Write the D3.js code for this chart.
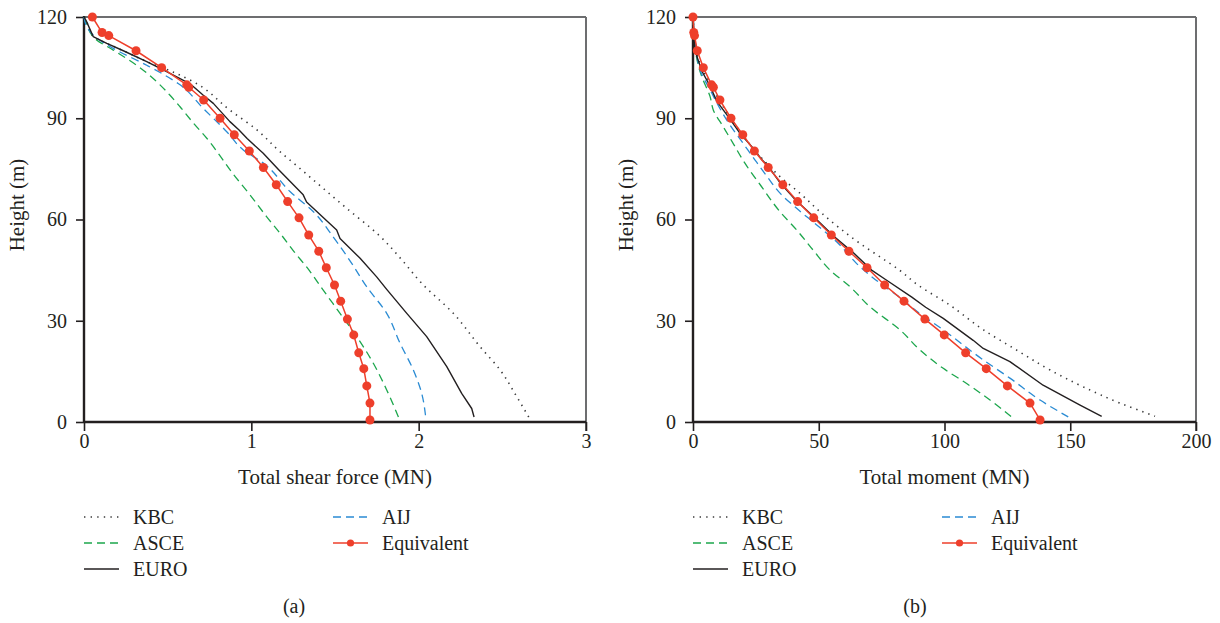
<!DOCTYPE html>
<html>
<head>
<meta charset="utf-8">
<script src="https://cdn.jsdelivr.net/npm/d3@7/dist/d3.min.js"></script>
<style>
  html, body { margin: 0; padding: 0; background: #fff; }
  svg text { font-family: "Liberation Serif", "DejaVu Serif", serif; fill: #231f20; }
</style>
</head>
<body>
<svg id="chart" width="1220" height="623" font-family="Liberation Serif, DejaVu Serif, serif"></svg>
<script>
// ---- axis ticks ----
const heightTicks = [0, 30, 60, 90, 120];
const shearTicks = [0, 1, 2, 3];
const momentTicks = [0, 50, 100, 150, 200];

// ---- (a) total shear force (MN) against height (m) ----
const kbcShearH = [120, 119, 114.2, 112.2, 110, 106.8, 103.3, 100.8, 92.4, 86.6, 80.1, 75.1, 71.7, 63.3, 55, 48, 41, 32.2, 22.3, 15.4, 7.5, 1.3];
const kbcShear  = [0, 0.012, 0.055, 0.136, 0.235, 0.375, 0.55, 0.654, 0.872, 1.032, 1.171, 1.291, 1.371, 1.57, 1.77, 1.9, 2.02, 2.207, 2.367, 2.487, 2.586, 2.66];

const asceShearH = [120, 117.7, 113.2, 110.2, 105.7, 100.8, 96.8, 93.4, 88.5, 84, 79.1, 75.6, 73.6, 67.3, 60.8, 55.9, 50.5, 45, 39.6, 32.2, 25.3, 17.4, 9.5, 1.5];
const asceShear  = [0, 0.016, 0.075, 0.175, 0.315, 0.435, 0.514, 0.574, 0.655, 0.735, 0.81, 0.86, 0.89, 0.992, 1.092, 1.172, 1.255, 1.345, 1.422, 1.53, 1.63, 1.729, 1.809, 1.879];

const euroShearH = [120, 119, 114.2, 112.2, 110, 106.8, 103.8, 100.2, 96.8, 94.4, 89, 86.6, 84, 79.6, 74.8, 67.3, 65.2, 56.9, 54.4, 48.5, 43, 39.3, 32.2, 25.3, 16.4, 8.5, 4, 1.5];
const euroShear  = [0, 0.012, 0.055, 0.136, 0.235, 0.375, 0.494, 0.634, 0.713, 0.773, 0.872, 0.925, 0.975, 1.071, 1.162, 1.31, 1.33, 1.51, 1.53, 1.65, 1.749, 1.809, 1.929, 2.048, 2.168, 2.257, 2.317, 2.331];

const aijShearH = [120, 117.2, 114.6, 110.7, 105.7, 99.9, 92.9, 86, 80.6, 76.7, 68.3, 62.3, 54.8, 47, 40.1, 32.2, 23.3, 15.4, 8.5, 1.5];
const aijShear  = [0, 0.016, 0.056, 0.175, 0.375, 0.574, 0.713, 0.853, 0.952, 1.072, 1.231, 1.371, 1.49, 1.6, 1.689, 1.809, 1.889, 1.968, 2.018, 2.042];

// equivalent static load: same storey heights in both panels
const eqHeights = [120, 115.4, 114.5, 110, 105, 99.9, 99.2, 95.4, 90, 85.1, 80.3, 75.4, 70.3, 65.3, 60.5, 55.4, 50.6, 45.7, 40.6, 35.8, 30.5, 25.8, 20.5, 15.8, 10.7, 5.6, 0.6];
const eqShear = [0.05, 0.108, 0.148, 0.311, 0.464, 0.614, 0.626, 0.715, 0.813, 0.898, 0.988, 1.072, 1.149, 1.217, 1.285, 1.343, 1.403, 1.448, 1.497, 1.534, 1.574, 1.612, 1.642, 1.672, 1.69, 1.709, 1.709];

// ---- (b) total moment (MN) against height (m) ----
const kbcMomentH = [120, 110, 100, 90, 78.2, 72.7, 67.8, 62.3, 57.4, 52.9, 49, 45, 41.1, 34.6, 27.3, 21.3, 15.4, 10.4, 5.6, 1.7];
const kbcMoment  = [0, 1.2, 7, 15, 27.3, 34.6, 42.5, 50.5, 58.4, 66.4, 74.2, 82.1, 88.5, 102.2, 115.5, 128.7, 142, 155.2, 169.8, 183.7];

const asceMomentH = [120, 115, 110, 106, 102.3, 96.4, 92.4, 87.5, 82.5, 76.6, 70, 62.3, 56.9, 50.9, 45, 40.1, 34.1, 27.3, 21.3, 15.9, 11.4, 6.5, 1.5];
const asceMoment  = [0, 0.3, 1, 2, 3.5, 6.8, 8.1, 12, 16, 20.7, 27, 34.6, 41.2, 47.8, 54.5, 62.4, 70.4, 82.3, 90.3, 99.5, 108.8, 118.1, 126.7];

const euroMomentH = [120, 110, 104, 99.5, 95, 90.5, 85.5, 81.6, 77.7, 75.7, 70.7, 65.8, 60.8, 55, 50, 45, 42, 37, 34, 30.7, 24.2, 21.8, 17.9, 10.9, 5, 1.7];
const euroMoment  = [0, 0.8, 3.5, 6.8, 9.5, 14, 18.7, 23.4, 27.4, 30, 34.8, 40.8, 48, 56, 64, 71, 77, 87, 92.5, 99.5, 111.4, 115.4, 126, 139.2, 153.9, 162.5];

const aijMomentH = [120, 112, 104.3, 98.4, 92.9, 88, 82.5, 77.7, 72.7, 67.8, 63.3, 58.4, 53.4, 46, 41.1, 36.5, 33.6, 27.3, 18.4, 13, 6.5, 1.5];
const aijMoment  = [0, 1, 2.8, 6.8, 10.7, 14.7, 20, 24.6, 29.5, 34.6, 41.2, 49.2, 57.1, 66.4, 74.4, 83, 87.6, 99.5, 115.4, 126, 138, 149.2];

const eqMoment = [0, 0.3, 0.6, 1.7, 4.1, 7.4, 8.1, 10.7, 15.1, 19.8, 24.4, 29.9, 35.7, 41.6, 48, 55, 62, 69.2, 76.2, 83.9, 92.2, 99.9, 108.4, 116.6, 125, 134, 138];

// ---- legend entries ----
const legendLabels = ["KBC", "ASCE", "EURO", "AIJ", "Equivalent"];

// ---- styles ----
const styles = {
  KBC:        { color: "#3a3a3a", width: 1.6, dash: "1.4,5", curve: d3.curveMonotoneY },
  ASCE:       { color: "#1ca64c", width: 1.3, dash: "8,5",   curve: d3.curveMonotoneY },
  EURO:       { color: "#231f20", width: 1.4, dash: null,    curve: d3.curveLinear },
  AIJ:        { color: "#2a8bd3", width: 1.3, dash: "8,5",   curve: d3.curveMonotoneY },
  Equivalent: { color: "#ee3f2b", width: 1.5, dash: null,    curve: d3.curveLinear }
};

const FONT = '"Liberation Serif", "DejaVu Serif", serif';
const svg = d3.select("#chart");

function zip(values, heights) {
  return values.map((v, i) => ({ v: v, h: heights[i] }));
}

function drawPanel(cfg) {
  const x = d3.scaleLinear().domain(cfg.xDomain).range([cfg.left, cfg.right]);
  const y = d3.scaleLinear().domain([0, 120]).range([422, 17]);
  const g = svg.append("g");

  // frame: grey top and right edges
  g.append("line").attr("x1", x(cfg.xDomain[0])).attr("x2", x(cfg.xDomain[1]))
    .attr("y1", y(120)).attr("y2", y(120)).attr("stroke", "#6d6e70").attr("stroke-width", 2);
  g.append("line").attr("x1", x(cfg.xDomain[1])).attr("x2", x(cfg.xDomain[1]))
    .attr("y1", y(120)).attr("y2", y(0) + 9).attr("stroke", "#6d6e70").attr("stroke-width", 2);

  // x axis
  const xAxis = g.append("g").attr("transform", `translate(0,${y(0)})`)
    .call(d3.axisBottom(x).tickValues(cfg.xTicks).tickSize(9).tickPadding(3).tickFormat(d3.format("d")));
  // y axis
  const yAxis = g.append("g").attr("transform", `translate(${x(cfg.xDomain[0])},0)`)
    .call(d3.axisLeft(y).tickValues(heightTicks).tickSize(8).tickPadding(9).tickFormat(d3.format("d")));

  [xAxis, yAxis].forEach(a => {
    a.attr("font-family", FONT);
    a.select(".domain").attr("stroke", "#231f20").attr("stroke-width", 2.4);
    a.selectAll(".tick line").attr("stroke", "#231f20").attr("stroke-width", 1.6);
    a.selectAll(".tick text").attr("font-size", 20).attr("fill", "#231f20")
      .style("font-family", FONT);
  });
  xAxis.select(".domain").attr("d", `M${cfg.left},0H${cfg.right}`);
  yAxis.select(".domain").attr("d", `M0,${y(0) + 1}V${y(120) - 1}`);

  // axis titles
  g.append("text").attr("x", (cfg.left + cfg.right) / 2).attr("y", 484)
    .attr("text-anchor", "middle").attr("font-size", 21).style("font-family", FONT).text(cfg.xTitle);
  g.append("text").attr("transform", `translate(${cfg.left - 60},205) rotate(-90)`)
    .attr("text-anchor", "middle").attr("font-size", 21).style("font-family", FONT).text("Height (m)");

  // series
  const line = d3.line().x(d => x(d.v)).y(d => y(d.h));
  cfg.series.forEach(s => {
    const st = styles[s.name];
    const p = g.append("path").datum(zip(s.values, s.heights))
      .attr("fill", "none").attr("stroke", st.color).attr("stroke-width", st.width)
      .attr("stroke-linejoin", "round")
      .attr("d", line.curve(st.curve));
    if (st.dash) p.attr("stroke-dasharray", st.dash);
    if (s.name === "Equivalent") {
      g.selectAll(null).data(zip(s.values, s.heights)).enter().append("circle")
        .attr("cx", d => x(d.v)).attr("cy", d => y(d.h)).attr("r", 4.5)
        .attr("fill", st.color);
    }
  });

  // legend
  const rowY = [517, 543, 569];
  legendLabels.forEach((name, i) => {
    const col = i < 3 ? 0 : 1;
    const row = i < 3 ? i : i - 3;
    const lx = cfg.left + col * 249;
    const ly = rowY[row];
    const st = styles[name];
    const ln = g.append("line").attr("x1", lx).attr("x2", lx + 35).attr("y1", ly).attr("y2", ly)
      .attr("stroke", st.color).attr("stroke-width", st.width);
    if (st.dash) ln.attr("stroke-dasharray", name === "KBC" ? "1.4,5.2" : "8,5");
    if (name === "Equivalent") {
      g.append("circle").attr("cx", lx + 17.5).attr("cy", ly).attr("r", 3.6).attr("fill", st.color);
    }
    g.append("text").attr("x", lx + 49).attr("y", ly + 7).attr("font-size", 20)
      .style("font-family", FONT).text(name);
  });

  // panel letter
  g.append("text").attr("x", cfg.letterX).attr("y", 613).attr("text-anchor", "middle")
    .attr("font-size", 20).style("font-family", FONT).text(cfg.letter);
}

drawPanel({
  left: 84, right: 586, xDomain: [0, 3], xTicks: shearTicks,
  xTitle: "Total shear force (MN)", letter: "(a)", letterX: 294,
  series: [
    { name: "KBC", values: kbcShear, heights: kbcShearH },
    { name: "ASCE", values: asceShear, heights: asceShearH },
    { name: "AIJ", values: aijShear, heights: aijShearH },
    { name: "EURO", values: euroShear, heights: euroShearH },
    { name: "Equivalent", values: eqShear, heights: eqHeights }
  ]
});

drawPanel({
  left: 693, right: 1196, xDomain: [0, 200], xTicks: momentTicks,
  xTitle: "Total moment (MN)", letter: "(b)", letterX: 915,
  series: [
    { name: "KBC", values: kbcMoment, heights: kbcMomentH },
    { name: "ASCE", values: asceMoment, heights: asceMomentH },
    { name: "AIJ", values: aijMoment, heights: aijMomentH },
    { name: "EURO", values: euroMoment, heights: euroMomentH },
    { name: "Equivalent", values: eqMoment, heights: eqHeights }
  ]
});
</script>
</body>
</html>
